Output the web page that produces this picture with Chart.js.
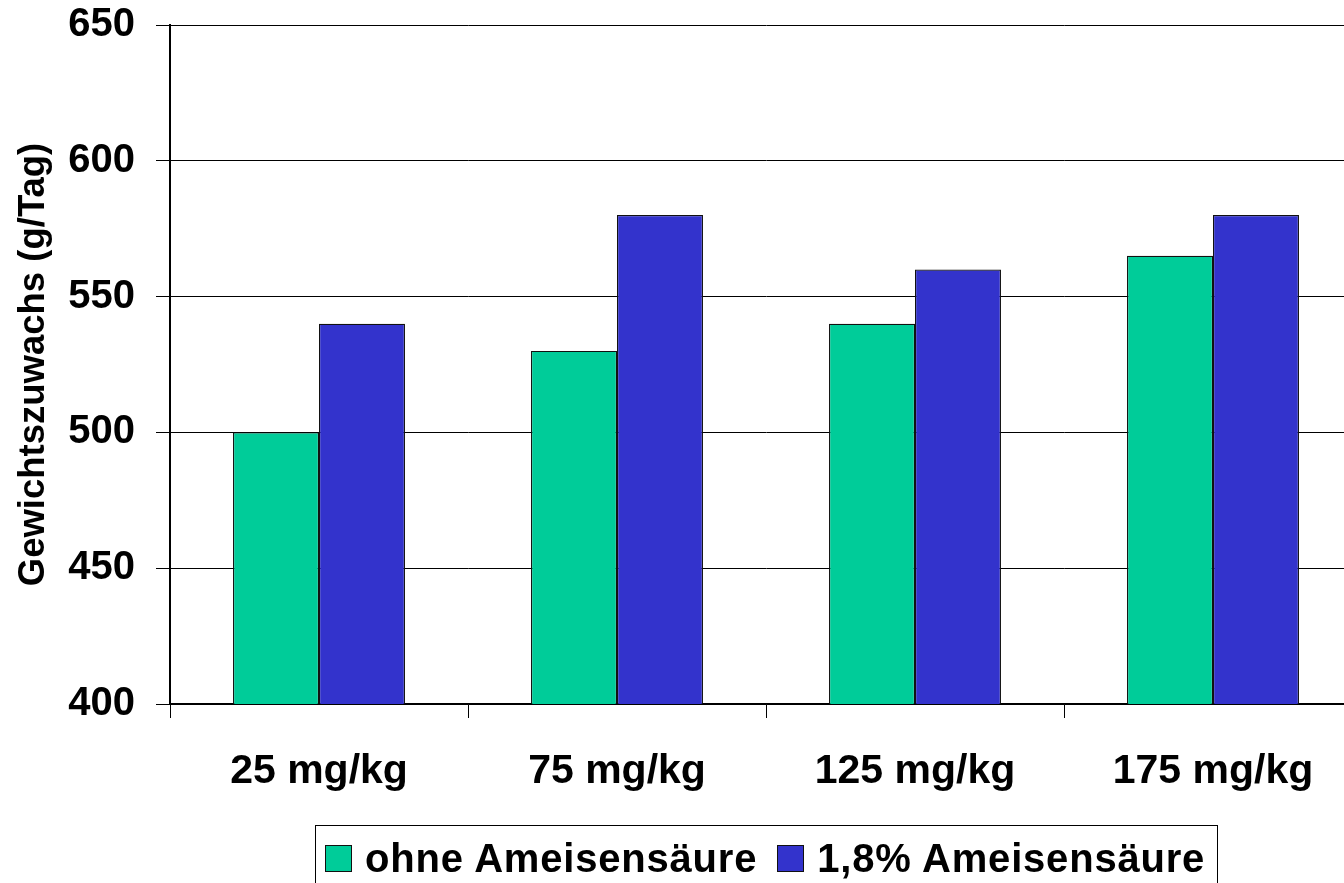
<!DOCTYPE html>
<html lang="de">
<head>
  <meta charset="UTF-8">
  <title>Gewichtszuwachs</title>
  <script src="https://cdn.jsdelivr.net/npm/chart.js"></script>
  <style>
    html, body { margin: 0; padding: 0; background: #fff; overflow: hidden; }
    #wrap { position: relative; width: 1344px; height: 883px; overflow: hidden; }
    #chart-box { position: absolute; left: 0; top: -20px; width: 1380px; height: 903px; }
    #legend {
      position: absolute; left: 315px; top: 825px; width: 903px; height: 80px;
      border: 1px solid #000; box-sizing: border-box;
      font-family: "Liberation Sans", Arial, sans-serif; font-weight: bold; font-size: 40px;
      letter-spacing: 0.8px; white-space: nowrap;
      display: flex; align-items: flex-start; padding: 17px 0 0 9px;
    }
    .item { display: flex; align-items: center; margin-right: 20px; line-height: 30px; flex-shrink: 0; }
    .swatch { width: 25px; height: 25px; border: 1px solid #111; margin-right: 13px; flex-shrink: 0; }
  </style>
</head>
<body>
  <div id="wrap">
    <div id="chart-box"><canvas id="c" width="1380" height="903"></canvas></div>
    <div id="legend"></div>
  </div>

  <script>
    const categories = ["25 mg/kg", "75 mg/kg", "125 mg/kg", "175 mg/kg"];
    const ohneValues = [500, 530, 540, 565];
    const mitValues = [540, 580, 560, 580];
    const seriesNames = ["ohne Ameisensäure", "1,8% Ameisensäure"];
    const seriesColors = ["#00CC99", "#3333CC"];

    const font = "'Liberation Sans', Arial, sans-serif";

    const chart = new Chart(document.getElementById("c"), {
      type: "bar",
      data: {
        labels: categories,
        datasets: [
          { label: seriesNames[0], data: ohneValues, backgroundColor: seriesColors[0], borderColor: "#111", borderWidth: 1.2 },
          { label: seriesNames[1], data: mitValues, backgroundColor: seriesColors[1], borderColor: "#111", borderWidth: 1.2 }
        ]
      },
      options: {
        responsive: false,
        animation: false,
        devicePixelRatio: 1,
        layout: { padding: { top: 5, right: 18, left: 0, bottom: 0 } },
        datasets: { bar: { categoryPercentage: 0.577, barPercentage: 1 } },
        plugins: { legend: { display: false }, tooltip: { enabled: false } },
        scales: {
          x: {
            grid: { offset: true, drawOnChartArea: false, drawTicks: true, tickLength: 14, color: "#000", lineWidth: 1 },
            border: { color: "#000", width: 1.5 },
            ticks: { color: "#000", font: { family: font, weight: "bold", size: 41 }, padding: 29, maxRotation: 0 },
            afterFit: s => { s.height = 179; }
          },
          y: {
            min: 400, max: 650,
            ticks: { stepSize: 50, color: "#000", font: { family: font, weight: "bold", size: 40 }, padding: 21 },
            grid: { color: "#000", lineWidth: 1, tickLength: 14 },
            border: { color: "#000", width: 2 },
            title: { display: true, text: "Gewichtszuwachs (g/Tag)", color: "#000", font: { family: font, weight: "bold", size: 36.5 }, padding: { top: 12, bottom: 0 } },
            afterFit: s => { s.width = 170; }
          }
        }
      }
    });

    // Legend built from the series
    const legend = document.getElementById("legend");
    seriesNames.forEach((name, i) => {
      const item = document.createElement("div");
      item.className = "item";
      const sw = document.createElement("div");
      sw.className = "swatch";
      sw.style.background = seriesColors[i];
      const tx = document.createElement("span");
      tx.textContent = name;
      item.appendChild(sw);
      item.appendChild(tx);
      legend.appendChild(item);
    });
  </script>
</body>
</html>
